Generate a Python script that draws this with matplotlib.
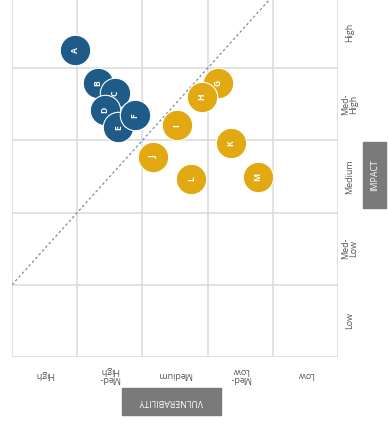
import matplotlib
matplotlib.use("Agg")
import matplotlib.pyplot as plt
from matplotlib.patches import Rectangle

plt.rcParams['font.family'] = ['Open Sans', 'DejaVu Sans']

# risk items: vulnerability column (x) and impact row (y), both on a 0..5 grid
names = ['A', 'B', 'C', 'D', 'E', 'F', 'G', 'H', 'I', 'J', 'K', 'L', 'M']
xs = [0.97, 1.32, 1.58, 1.43, 1.63, 1.89, 3.16, 2.91, 2.53, 2.16, 3.36, 2.75, 3.77]
ys = [4.25, 3.79, 3.65, 3.42, 3.18, 3.35, 3.79, 3.60, 3.21, 2.77, 2.96, 2.47, 2.49]
group = ['hi', 'hi', 'hi', 'hi', 'hi', 'hi', 'lo', 'lo', 'lo', 'lo', 'lo', 'lo', 'lo']

x_labels = ['High', 'Med-\nHigh', 'Medium', 'Med-\nLow', 'Low']
y_labels = ['Low', 'Med-\nLow', 'Medium', 'Med-\nHigh', 'High']

BLUE = '#1f5b88'
GOLD = '#e2a912'
GRID = '#dadada'
LABEL = '#555555'
BOX = '#7a7a7a'

W, H = 388, 423
fig = plt.figure(figsize=(W / 100, H / 100), dpi=100)
ax = fig.add_axes([12 / W, 66 / H, 326 / W, 361 / H])
ax.set_xlim(0, 5)
ax.set_ylim(0, 5)

for v in range(6):
    ax.axvline(v, color=GRID, lw=1.1, zorder=0)
    ax.axhline(v, color=GRID, lw=1.1, zorder=0)
for s in ax.spines.values():
    s.set_visible(False)
ax.set_xticks([])
ax.set_yticks([])

# threshold line
ax.plot([0, 4], [1, 5], color='#7d8aa0', lw=0.9, ls=(0, (2, 2)), zorder=1)

for n, x, y, g in zip(names, xs, ys, group):
    c = BLUE if g == 'hi' else GOLD
    ax.scatter([x], [y], s=480, color=c, edgecolor='white', linewidth=0.8, zorder=3)
    ax.text(x, y, n, color='white', fontsize=6.2, fontweight='bold', rotation=90,
            ha='center', va='center', zorder=4)

# row labels on the right, turned sideways
for i, lab in enumerate(y_labels):
    ax.text(5.18, i + 0.5, lab, rotation=90, fontsize=6.5, color=LABEL,
            ha='center', va='center', linespacing=0.95)

# column labels underneath, upside down
for i, lab in enumerate(x_labels):
    ax.text(i + 0.5, -0.24, lab, rotation=180, fontsize=6.5, color=LABEL,
            ha='center', va='center', linespacing=0.95)

# axis title boxes
fig.patches.append(Rectangle((363 / W, 1 - 208 / H), 23 / W, 66 / H,
                             transform=fig.transFigure, color=BOX))
fig.text(374.5 / W, 1 - 175 / H, 'IMPACT', rotation=90, color='white',
         fontsize=6.3, ha='center', va='center')
fig.patches.append(Rectangle((122 / W, 1 - 415 / H), 99 / W, 27 / H,
                             transform=fig.transFigure, color=BOX))
fig.text(171.5 / W, 1 - 401.5 / H, 'VULNERABILITY', rotation=180, color='white',
         fontsize=6.3, ha='center', va='center')

fig.savefig('out.png', dpi=100)
